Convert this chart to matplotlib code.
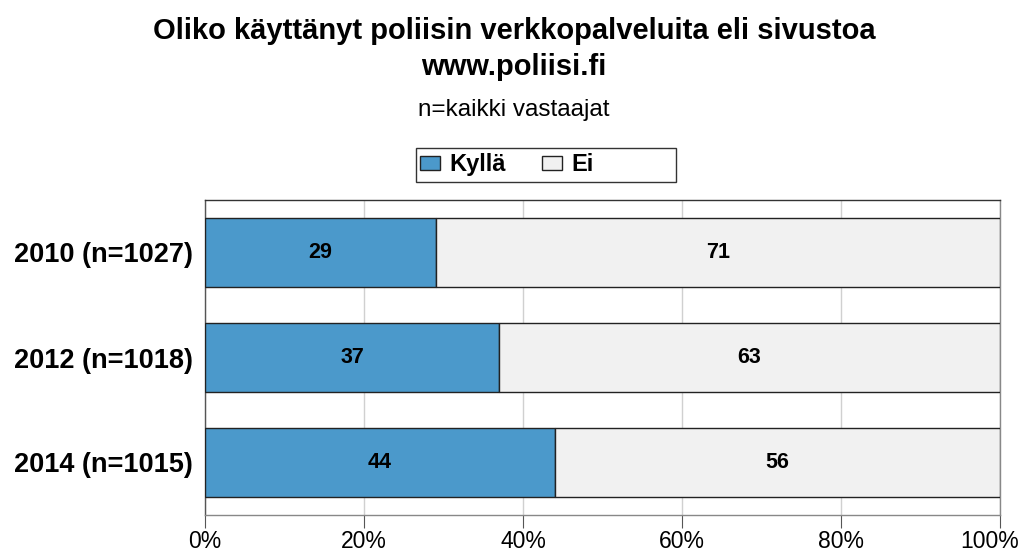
import matplotlib
matplotlib.use("Agg")
import matplotlib.pyplot as plt
from matplotlib.patches import Patch, Rectangle
from matplotlib.transforms import ScaledTranslation

plt.rcParams['font.family'] = ['Liberation Sans', 'DejaVu Sans']

categories = ["2010 (n=1027)", "2012 (n=1018)", "2014 (n=1015)"]
kylla = [29, 37, 44]
ei = [71, 63, 56]
xticks = [0, 20, 40, 60, 80, 100]
xticklabels = ["0%", "20%", "40%", "60%", "80%", "100%"]

blue = "#4B99CB"
light = "#F1F1F1"

fig = plt.figure(figsize=(10.28, 5.53), dpi=100)
ax = fig.add_axes([205/1028, 1-515/553, 795/1028, 315/553])

ypos = list(range(len(categories)))
ax.barh(ypos, kylla, height=0.66, color=blue, edgecolor="#222222", linewidth=1.0, zorder=3)
ax.barh(ypos, ei, left=kylla, height=0.66, color=light, edgecolor="#222222", linewidth=1.0, zorder=3)

for y, k, e in zip(ypos, kylla, ei):
    ax.text(k/2, y, str(k), ha="center", va="center", fontsize=15.5, fontweight="bold", zorder=4)
    ax.text(k + e/2, y, str(e), ha="center", va="center", fontsize=15.5, fontweight="bold", zorder=4)

ax.set_xlim(0, 100)
ax.set_ylim(len(categories) - 0.5, -0.5)
ax.set_yticks(ypos)
ax.set_yticklabels(categories, fontsize=19.5, fontweight="bold")
ax.tick_params(axis="y", length=0, pad=9)
ax.set_xticks(xticks)
ax.set_xticklabels(xticklabels, fontsize=16.5)
ax.tick_params(axis="x", length=9, color="#555555", direction="out", pad=2)
ax.grid(axis="x", color="#D0D0D0", linewidth=1.0, zorder=0)
ax.spines["top"].set_color("#333333")
for s in ["right", "bottom"]:
    ax.spines[s].set_color("#888888")
ax.spines["left"].set_color("#555555")
for s in ax.spines.values():
    s.set_linewidth(1.0)

# shift the last tick label left so it stays inside the figure
last = ax.get_xticklabels()[-1]
last.set_transform(last.get_transform() + ScaledTranslation(-0.10, 0, fig.dpi_scale_trans))

fig.text(0.5, 1-31/553, "Oliko käyttänyt poliisin verkkopalveluita eli sivustoa",
         ha="center", va="center", fontsize=21, fontweight="bold")
fig.text(0.5, 1-67/553, "www.poliisi.fi", ha="center", va="center", fontsize=21, fontweight="bold")
fig.text(0.5, 1-110/553, "n=kaikki vastaajat", ha="center", va="center", fontsize=17.5)

# legend frame
fig.patches.append(Rectangle((416/1028, 1-182/553), 260/1028, 34/553, transform=fig.transFigure,
                             facecolor="white", edgecolor="#333333", linewidth=1.0, zorder=1))
handles = [Patch(facecolor=blue, edgecolor="#222222", label="Kyllä"),
           Patch(facecolor=light, edgecolor="#222222", label="Ei")]
leg = fig.legend(handles=handles, loc="center left", bbox_to_anchor=(420/1028, 1-165/553),
                 ncol=2, frameon=False, prop={"weight": "bold", "size": 17},
                 handlelength=0.85, handleheight=0.5, columnspacing=1.55, handletextpad=0.38,
                 borderpad=0, borderaxespad=0)

fig.savefig("out.png", dpi=100)
